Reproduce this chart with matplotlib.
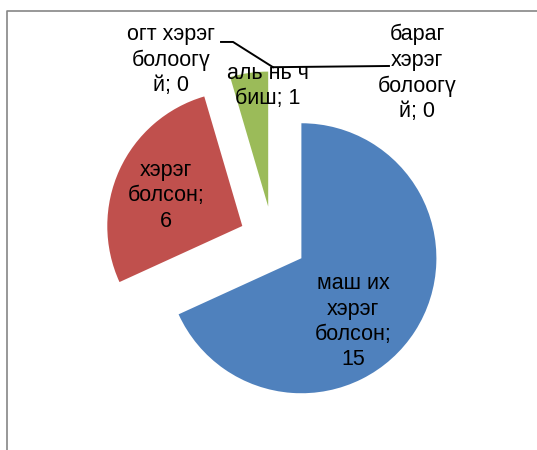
import numpy as np
import matplotlib
matplotlib.use("Agg")
import matplotlib.pyplot as plt
from matplotlib.lines import Line2D

plt.rcParams['font.family'] = ['Liberation Sans', 'DejaVu Sans']

# slice data, clockwise from 12 o'clock
labels = ['маш их\nхэрэг\nболсон', 'хэрэг\nболсон', 'аль нь ч\nбиш',
          'огт хэрэг\nболоогү\nй', 'бараг\nхэрэг\nболоогү\nй']
values = [15, 6, 1, 0, 0]
colors = ['#4F81BD', '#C0504D', '#9BBB59', '#8064A2', '#4BACC6']
# how the value is joined to the name in each data label
seps = ['\n', '\n', ' ', ' ', ' ']

EXPLODE = 0.25
fig = plt.figure(figsize=(5.37, 4.5), dpi=100)
ax = fig.add_axes([0, 0, 1, 1])
wedges, _ = ax.pie(values, colors=colors, startangle=90, counterclock=False,
                   explode=[EXPLODE] * len(values),
                   wedgeprops=dict(linewidth=0))
# 1 data unit = 135 px, pie centre at pixel (273, 240)
ax.set_xlim(-273 / 135, 264 / 135)
ax.set_ylim(-210 / 135, 240 / 135)
ax.set_aspect('auto')
ax.axis('off')

# label positions (data coords), one per slice
label_xy = [(0.593, -0.607), (-0.793, 0.326), (-0.037, 1.141),
            (-0.756, 1.333), (1.067, 1.237)]
for lab, v, sep, (x, y) in zip(labels, values, seps, label_xy):
    ax.text(x, y, f"{lab};{sep}{v}", ha='center', va='center', fontsize=15.5,
            linespacing=1.27, color='black')

# leader lines for zero slices: end on the exploded outer edge at the slice angle
def edge_point(w):
    t = np.deg2rad((w.theta1 + w.theta2) / 2)
    cx, cy = w.center
    return cx + w.r * np.cos(t), cy + w.r * np.sin(t) + 0.03

ex, ey = edge_point(wedges[3])
ax.plot([-0.385, -0.296, ex], [1.467, 1.467, ey], color='black', lw=1.4)
ex, ey = edge_point(wedges[4])
ax.plot([0.859, ex], [1.289, ey], color='black', lw=1.4)

# chart frame (clipped on the right and bottom)
fig.add_artist(Line2D([7.5 / 537, 7.5 / 537, 1], [0, 1 - 11 / 450, 1 - 11 / 450],
                      transform=fig.transFigure, color='#868686', lw=1.2))

fig.savefig('out.png', dpi=100)
